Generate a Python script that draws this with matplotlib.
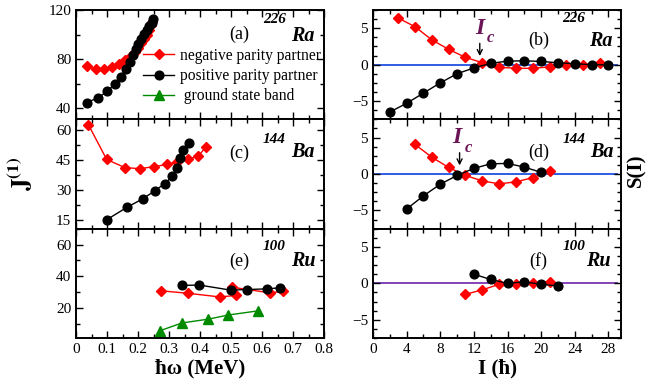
#!/usr/bin/env python3
# -*- coding: utf-8 -*-

# J(1) vs hbar*omega (left) and staggering S(I) vs I (right) for 226Ra, 144Ba, 100Ru

import matplotlib
matplotlib.use("Agg")
import matplotlib.pyplot as plt
from matplotlib.ticker import MultipleLocator

# ---- Дані: J(1) ----
ra_neg_w = [0.036, 0.063, 0.090, 0.117, 0.139, 0.158, 0.176, 0.190, 0.201, 0.211, 0.219, 0.228, 0.235, 0.242, 0.246]
ra_neg_J = [74.1, 71.9, 71.9, 73.6, 76.3, 79.3, 82.9, 86.2, 89.2, 93.3, 96.6, 100.0, 103.5, 107.6, 110.4]
ra_pos_w = [0.034, 0.072, 0.101, 0.126, 0.144, 0.160, 0.174, 0.185, 0.194, 0.201, 0.210, 0.219, 0.228, 0.236, 0.244, 0.249]
ra_pos_J = [44.7, 48.5, 54.0, 59.8, 65.6, 71.6, 77.9, 83.5, 88.4, 92.5, 96.6, 100.2, 103.5, 106.8, 109.5, 112.3]

ba_neg_w = [0.040, 0.099, 0.158, 0.206, 0.252, 0.293, 0.327, 0.362, 0.395, 0.418]
ba_neg_J = [62.8, 45.3, 41.2, 40.7, 41.7, 42.8, 44.2, 45.5, 47.0, 51.5]
ba_pos_w = [0.099, 0.164, 0.215, 0.254, 0.286, 0.311, 0.326, 0.335, 0.346, 0.364]
ba_pos_J = [15.0, 21.2, 25.5, 29.5, 33.2, 36.8, 41.2, 46.0, 50.2, 53.7]

ru_neg_w = [0.274, 0.362, 0.465, 0.516, 0.502, 0.626, 0.669]
ru_neg_J = [30.8, 29.2, 26.9, 27.9, 33.1, 29.5, 30.5]
ru_pos_w = [0.341, 0.398, 0.500, 0.553, 0.615, 0.658]
ru_pos_J = [34.2, 34.4, 31.2, 31.6, 32.0, 32.7]
ru_gsb_w = [0.271, 0.342, 0.427, 0.491, 0.586]
ru_gsb_J = [5.6, 10.5, 12.9, 15.5, 18.1]

# ---- Дані: S(I) ----
ra_neg_I = [3, 5, 7, 9, 11, 13, 15, 17, 19, 21, 23, 25, 27]
ra_neg_S = [6.4, 5.2, 3.4, 2.1, 1.0, 0.27, -0.36, -0.49, -0.5, -0.3, -0.1, 0.0, 0.2]
ra_pos_I = [2, 4, 6, 8, 10, 12, 14, 16, 18, 20, 22, 24, 26, 28]
ra_pos_S = [-6.5, -5.3, -3.9, -2.5, -1.24, -0.45, 0.18, 0.49, 0.53, 0.44, 0.27, 0.13, 0.0, -0.04]

ba_neg_I = [5, 7, 9, 11, 13, 15, 17, 19, 21]
ba_neg_S = [4.05, 2.3, 0.9, -0.2, -0.95, -1.35, -1.08, -0.5, 0.4]
ba_pos_I = [4, 6, 8, 10, 12, 14, 16, 18, 20]
ba_pos_S = [-4.8, -3.0, -1.4, -0.2, 0.77, 1.4, 1.45, 0.95, 0.22]

ru_neg_I = [11, 13, 15, 17, 19, 21]
ru_neg_S = [-1.5, -0.9, -0.13, -0.13, 0.1, 0.2]
ru_pos_I = [12, 14, 16, 18, 20, 22]
ru_pos_S = [1.25, 0.53, 0.0, 0.2, -0.13, -0.36]

# критичний спін I_c (стрілка)
ra_Ic = 12.7
ba_Ic = 10.3

RED = "#ff0000"
GREEN = "#008a00"
IC_COLOR = "#6b1458"

plt.rcParams["font.family"] = ["Liberation Serif", "DejaVu Serif"]
plt.rcParams["mathtext.fontset"] = "stix"

fig = plt.figure(figsize=(6.49, 3.92), dpi=100)

# ---- Розмітка осей (у пікселях 649x392) ----
W, H = 649.0, 392.0
top, bottom = 10.0, 338.0
ph = (bottom - top) / 3
axL, axR = [], []
for r in range(3):
    y0 = 1 - (top + (r + 1) * ph) / H
    axL.append(fig.add_axes([76 / W, y0, 248 / W, ph / H]))
    axR.append(fig.add_axes([373 / W, y0, 248 / W, ph / H]))


def style(ax):
    ax.tick_params(which="both", direction="in", top=True, right=True, labelsize=11, width=1)
    ax.tick_params(which="major", length=5)
    ax.tick_params(which="minor", length=3)
    for s in ax.spines.values():
        s.set_linewidth(1.4)


def neg(ax, x, y):
    ax.plot(x, y, "-", color=RED, lw=1, marker="D", ms=5, label="negative parity partner")


def pos(ax, x, y):
    ax.plot(x, y, "-", color="k", lw=1, marker="o", ms=6.3, label="positive parity partner")


def tag(ax, lab, mass, elem, xs=(0.66, 0.80, 0.915), ys=(0.72, 0.85, 0.71)):
    ax.text(xs[0], ys[0], lab, transform=ax.transAxes, ha="center", va="center", fontsize=13)
    ax.text(xs[1], ys[1], mass, transform=ax.transAxes, ha="center", va="center",
            fontsize=11, fontweight="bold", fontstyle="italic")
    ax.text(xs[2], ys[2], elem, transform=ax.transAxes, ha="center", va="center",
            fontsize=14.5, fontweight="bold", fontstyle="italic")


# ---- Ліві панелі: J(1) ----
neg(axL[0], ra_neg_w, ra_neg_J)
pos(axL[0], ra_pos_w, ra_pos_J)
axL[0].set_ylim(31, 120)
axL[0].yaxis.set_major_locator(MultipleLocator(40))
axL[0].yaxis.set_minor_locator(MultipleLocator(20))
tag(axL[0], "(a)", "226", "Ra", ys=(0.78, 0.91, 0.76))

neg(axL[1], ba_neg_w, ba_neg_J)
pos(axL[1], ba_pos_w, ba_pos_J)
axL[1].set_ylim(10.5, 65.5)
axL[1].yaxis.set_major_locator(MultipleLocator(15))
axL[1].yaxis.set_minor_locator(MultipleLocator(7.5))
tag(axL[1], "(c)", "144", "Ba", ys=(0.69, 0.82, 0.70))

neg(axL[2], ru_neg_w, ru_neg_J)
pos(axL[2], ru_pos_w, ru_pos_J)
axL[2].plot(ru_gsb_w, ru_gsb_J, "-", color=GREEN, lw=1, marker="^", ms=6.5, label=" ground state band")
axL[2].set_ylim(1, 70)
axL[2].yaxis.set_major_locator(MultipleLocator(20))
axL[2].yaxis.set_minor_locator(MultipleLocator(10))
tag(axL[2], "(e)", "100", "Ru", ys=(0.70, 0.84, 0.70))

for ax in axL:
    ax.set_xlim(0, 0.8)
    ax.xaxis.set_major_locator(MultipleLocator(0.1))
    ax.xaxis.set_minor_locator(MultipleLocator(0.05))
    style(ax)
for ax in axL[:2]:
    ax.tick_params(labelbottom=False)
axL[2].set_xticks([0, 0.1, 0.2, 0.3, 0.4, 0.5, 0.6, 0.7, 0.8])
axL[2].set_xticklabels(["0", "0.1", "0.2", "0.3", "0.4", "0.5", "0.6", "0.7", "0.8"])
axL[2].set_xlabel("ħω (MeV)", fontsize=15, fontweight="bold", labelpad=2)

# легенда в панелі (a), з усіма трьома серіями
hs = axL[0].get_lines()[:2] + [axL[2].get_lines()[-1]]
axL[0].legend(hs, [h.get_label() for h in hs], loc="upper left", bbox_to_anchor=(0.27, 0.655),
              frameon=False, fontsize=11.2, handlelength=2.0, handletextpad=0.4,
              labelspacing=0.28, borderaxespad=0, borderpad=0)

# ---- Праві панелі: S(I) ----
axR[0].plot([0, 29], [0, 0], "-", color="#1f4fe0", lw=1.3, zorder=1)
neg(axR[0], ra_neg_I, ra_neg_S)
pos(axR[0], ra_pos_I, ra_pos_S)
tag(axR[0], "(b)", "226", "Ra", xs=(0.67, 0.81, 0.92), ys=(0.72, 0.92, 0.72))

axR[1].plot([0, 29], [0, 0], "-", color="#1f4fe0", lw=1.3, zorder=1)
neg(axR[1], ba_neg_I, ba_neg_S)
pos(axR[1], ba_pos_I, ba_pos_S)
tag(axR[1], "(d)", "144", "Ba", xs=(0.67, 0.81, 0.925), ys=(0.70, 0.82, 0.70))

axR[2].plot([0, 29], [0, 0], "-", color="#7a35b0", lw=1.3, zorder=1)
neg(axR[2], ru_neg_I, ru_neg_S)
pos(axR[2], ru_pos_I, ru_pos_S)
tag(axR[2], "(f)", "100", "Ru", xs=(0.665, 0.81, 0.91), ys=(0.70, 0.84, 0.70))

# I_c з стрілками
for ax, ic, dx in [(axR[0], ra_Ic, 0.0), (axR[1], ba_Ic, -0.3)]:
    ax.annotate("", xy=(ic, 0.8), xytext=(ic, 3.3),
                arrowprops=dict(arrowstyle="->", color="k", lw=1, mutation_scale=9))
    ax.text(ic + dx, 5.0, "I", color=IC_COLOR, fontsize=17, fontweight="bold",
            fontstyle="italic", ha="center", va="center")
    ax.text(ic + 1.3 + dx, 3.6, "c", color=IC_COLOR, fontsize=12, fontweight="bold",
            fontstyle="italic", ha="center", va="center")

for ax in axR:
    ax.set_xlim(0, 29.5)
    ax.set_ylim(-7.5, 7.5)
    ax.xaxis.set_major_locator(MultipleLocator(4))
    ax.xaxis.set_minor_locator(MultipleLocator(2))
    ax.yaxis.set_major_locator(MultipleLocator(5))
    ax.yaxis.set_minor_locator(MultipleLocator(1.25))
    style(ax)
for ax in axR[:2]:
    ax.tick_params(labelbottom=False)
axR[2].set_xlabel("I (ħ)", fontsize=15, fontweight="bold", labelpad=2)

# ---- Підписи осей Y на рівні фігури ----
fig.text(20 / W, 1 - 174 / H, r"$\mathbf{J^{(1)}}$", rotation=90, ha="center", va="center", fontsize=18)
fig.text(636 / W, 1 - 170 / H, "S(I)", rotation=90, ha="center", va="center",
         fontsize=15, fontweight="bold")

fig.savefig("out.png", dpi=100)
plt.close(fig)
